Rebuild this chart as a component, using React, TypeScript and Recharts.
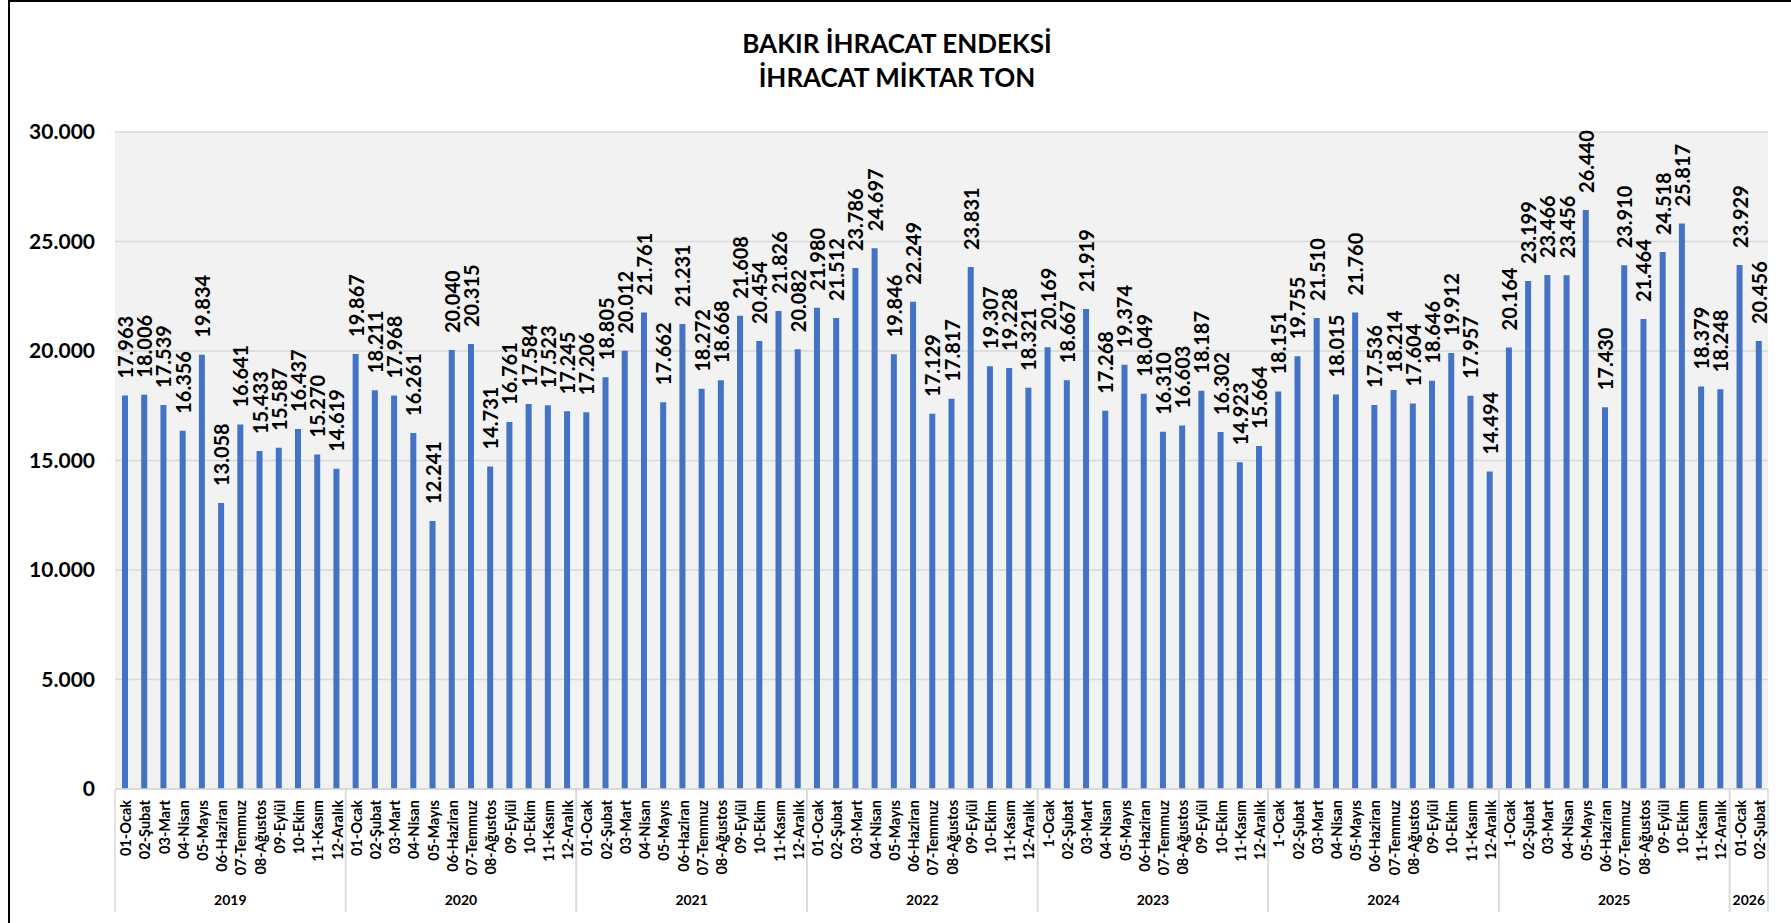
import { BarChart, Bar, XAxis, YAxis, CartesianGrid, LabelList } from 'recharts';

const years = ['2019', '2020', '2021', '2022', '2023', '2024', '2025', '2026'];

const monthsA = ['01-Ocak', '02-Şubat', '03-Mart', '04-Nisan', '05-Mayıs', '06-Haziran', '07-Temmuz', '08-Ağustos', '09-Eylül', '10-Ekim', '11-Kasım', '12-Aralık'];
const monthsB = ['1-Ocak', '02-Şubat', '03-Mart', '04-Nisan', '05-Mayıs', '06-Haziran', '07-Temmuz', '08-Ağustos', '09-Eylül', '10-Ekim', '11-Kasım', '12-Aralık'];
const months2026 = ['01-Ocak', '02-Şubat'];

const v2019 = [17963, 18006, 17539, 16356, 19834, 13058, 16641, 15433, 15587, 16437, 15270, 14619];
const v2020 = [19867, 18211, 17968, 16261, 12241, 20040, 20315, 14731, 16761, 17584, 17523, 17245];
const v2021 = [17206, 18805, 20012, 21761, 17662, 21231, 18272, 18668, 21608, 20454, 21826, 20082];
const v2022 = [21980, 21512, 23786, 24697, 19846, 22249, 17129, 17817, 23831, 19307, 19228, 18321];
const v2023 = [20169, 18667, 21919, 17268, 19374, 18049, 16310, 16603, 18187, 16302, 14923, 15664];
const v2024 = [18151, 19755, 21510, 18015, 21760, 17536, 18214, 17604, 18646, 19912, 17957, 14494];
const v2025 = [20164, 23199, 23466, 23456, 26440, 17430, 23910, 21464, 24518, 25817, 18379, 18248];
const v2026 = [23929, 20456];

const yTicks = [0, 5000, 10000, 15000, 20000, 25000, 30000];

const monthLabels = [monthsA, monthsA, monthsA, monthsA, monthsB, monthsB, monthsB, months2026];
const values = [v2019, v2020, v2021, v2022, v2023, v2024, v2025, v2026];

type Row = { key: string; year: string; month: string; value: number; first: boolean; last: boolean; count: number };

const data: Row[] = years.flatMap((year, yi) =>
  values[yi].map((value, mi) => ({
    key: `${year}-${mi + 1}`,
    year,
    month: monthLabels[yi][mi],
    value,
    first: mi === 0,
    last: mi === values[yi].length - 1,
    count: values[yi].length,
  }))
);
const byKey: Record<string, Row> = Object.fromEntries(data.map((d) => [d.key, d]));

const FONT = "Lato, 'Noto Sans', sans-serif";
const CHART_W = 1781;
const CHART_H = 921;
const MARGIN = { top: 130, right: 23, left: 5, bottom: 4 };
const Y_AXIS_W = 100;
const BAND = (CHART_W - MARGIN.left - MARGIN.right - Y_AXIS_W) / data.length;

const fmt = (v: number) => String(v).replace(/\B(?=(\d{3})+(?!\d))/g, '.');

function MonthTick(props: any) {
  const { x, y, payload } = props;
  const d = byKey[payload.value];
  if (!d) return null;
  const axisY = y - 11;
  const half = BAND / 2;
  return (
    <g>
      <text
        transform={`translate(${x + 6.5},${y}) rotate(-90)`}
        textAnchor="end"
        fontSize={14.5}
        fontWeight={700}
        fontFamily={FONT}
        fill="#000"
      >
        {d.month}
      </text>
      {d.first && <line x1={x - half} x2={x - half} y1={axisY} y2={axisY + 123} stroke="#d9d9d9" strokeWidth={1.5} />}
      {d.last && <line x1={x + half} x2={x + half} y1={axisY} y2={axisY + 123} stroke="#d9d9d9" strokeWidth={1.5} />}
      {d.first && (
        <text
          x={x - half + (d.count * BAND) / 2}
          y={axisY + 116}
          textAnchor="middle"
          fontSize={14}
          fontWeight={700}
          fontFamily={FONT}
          fill="#000"
        >
          {d.year}
        </text>
      )}
    </g>
  );
}

function ValueLabel(props: any) {
  const { x, y, width, value } = props;
  const px = Number(x) + Number(width) / 2 + 8;
  const py = Number(y) - 17;
  return (
    <text
      transform={`translate(${px},${py}) rotate(-90)`}
      textAnchor="start"
      fontSize={20}
      fontWeight={700}
      fontFamily={FONT}
      fill="#000"
    >
      {fmt(Number(value))}
    </text>
  );
}

export default function App() {
  return (
    <div
      style={{
        position: 'absolute',
        left: 8,
        top: 0,
        width: 1783,
        height: 923,
        borderTop: '2px solid #000',
        borderLeft: '2px solid #000',
        boxSizing: 'border-box',
        background: '#fff',
        fontFamily: FONT,
      }}
    >
      <div
        style={{
          position: 'absolute',
          left: 0,
          top: 24,
          width: 1774,
          textAlign: 'center',
          fontSize: 26,
          lineHeight: '34px',
          fontWeight: 700,
          color: '#000',
        }}
      >
        <div>BAKIR İHRACAT ENDEKSİ</div>
        <div>İHRACAT MİKTAR TON</div>
      </div>
      <div style={{ position: 'absolute', left: 0, top: 0 }}>
        <BarChart width={CHART_W} height={CHART_H} data={data} margin={MARGIN}>
          <CartesianGrid vertical={false} stroke="#d9d9d9" strokeWidth={1.5} fill="#f2f2f2" fillOpacity={1} />
          <XAxis
            dataKey="key"
            interval={0}
            height={130}
            tickLine={false}
            tickSize={0}
            tickMargin={11}
            axisLine={{ stroke: '#d9d9d9', strokeWidth: 1.5 }}
            tick={<MonthTick />}
          />
          <YAxis
            width={Y_AXIS_W}
            domain={[0, 30000]}
            ticks={yTicks}
            interval={0}
            axisLine={false}
            tickLine={false}
            tickSize={0}
            tickMargin={20}
            tickFormatter={fmt}
            tick={{ fontSize: 21, fontWeight: 700, fill: '#000', fontFamily: FONT }}
          />
          <Bar dataKey="value" fill="#4472c4" barSize={6} isAnimationActive={false}>
            <LabelList dataKey="value" content={<ValueLabel />} />
          </Bar>
        </BarChart>
      </div>
    </div>
  );
}
